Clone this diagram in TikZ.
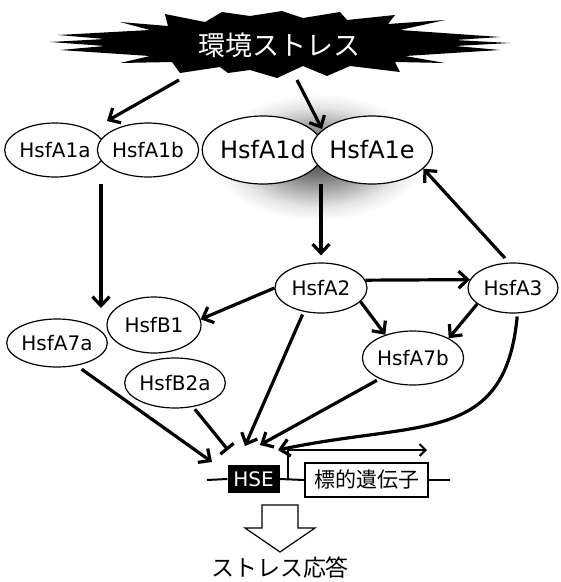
\documentclass[tikz,border=0pt]{standalone}
\usepackage{fontspec}
\setmainfont{DejaVu Sans}
\newfontfamily\jpfont{Noto Sans CJK JP}
\usetikzlibrary{shapes.geometric,arrows.meta}
% soft halo behind the HsfA1d/HsfA1e pair (path edge sits at 25bp)
\pgfdeclareradialshading{glow}{\pgfpoint{0bp}{0bp}}{color(0bp)=(black!68); color(6bp)=(black!58); color(13bp)=(black!32); color(19bp)=(black!10); color(24bp)=(white); color(50bp)=(white)}
\begin{document}
\begin{tikzpicture}[x=1pt,y=-1pt,
  hsf/.style={ellipse,draw,line width=1.2pt,fill=white,inner sep=0pt,
    font=\fontsize{20}{24}\selectfont},
  hsfbig/.style={hsf,font=\fontsize{24}{28}\selectfont},
  link/.style={line width=3.2pt,-{Straight Barb[length=9pt,width=17pt]}},
  block/.style={line width=3.2pt,-{Bar[width=17pt]}},
  dna/.style={line width=2pt},
]
\useasboundingbox (0,0) rectangle (561,582);
\fill[white] (0,0) rectangle (561,582);

% halo
\shade[shading=glow] (318,157) ellipse [x radius=112, y radius=66];

% stress burst
\fill[black] (58,35) -- (150,30) -- (120,22) -- (168,26) -- (165,14) -- (205,22)
  -- (222,12) -- (250,16) -- (282,11) -- (303,18) -- (340,12) -- (347,20)
  -- (395,15) -- (388,24) -- (445,20) -- (400,30) -- (500,37) -- (455,40)
  -- (510,43) -- (455,46) -- (500,50) -- (405,56) -- (445,63) -- (395,62)
  -- (400,72) -- (350,66) -- (327,76) -- (303,66) -- (277,78) -- (250,70)
  -- (228,73) -- (220,67) -- (180,73) -- (172,62) -- (120,63) -- (150,56)
  -- (60,50) -- (105,46) -- (50,42) -- (105,39) -- cycle;
\node[text=white,font=\jpfont\fontsize{27}{30}\selectfont,inner sep=0pt] (stress) at (279,45) {環境ストレス};

% transcription factors
\node[hsf,minimum width=92,minimum height=54] (a1a) at (55,150) {HsfA1a};
\node[hsf,minimum width=92,minimum height=54] (a1b) at (148,150) {HsfA1b};
\node[hsfbig,minimum width=108,minimum height=68] (a1d) at (263,150) {HsfA1d};
\node[hsfbig,minimum width=110,minimum height=68] (a1e) at (372,150) {HsfA1e};
\node[hsf,minimum width=92,minimum height=50] (a2) at (321,288) {HsfA2};
\node[hsf,minimum width=90,minimum height=50] (a3) at (513,288) {HsfA3};
\node[hsf,minimum width=94,minimum height=56] (b1) at (154,325) {HsfB1};
\node[hsf,minimum width=92,minimum height=48] (a7a) at (57,343) {HsfA7a};
\node[hsf,minimum width=94,minimum height=50] (b2a) at (175,383) {HsfB2a};
\node[hsf,minimum width=92,minimum height=54] (a7b) at (413,358) {HsfA7b};

% promoter and target gene
\coordinate (dnaL) at (207,480);
\coordinate (dnaR) at (450,480);
\node[fill=black,text=white,minimum width=52,minimum height=28,inner sep=0pt,
  font=\fontsize{20}{24}\selectfont] (hse) at (253.5,479) {HSE};
\node[draw,line width=1.2pt,fill=white,minimum width=123,minimum height=34,inner sep=0pt,
  font=\jpfont\fontsize{21}{24}\selectfont] (gene) at (366.5,480) {標的遺伝子};
\draw[dna] (dnaL) -- (hse.west);
\draw[dna] (hse.east) -- (gene.west);
\draw[dna] (gene.east) -- (dnaR);
\coordinate (tss) at (288,480);
\coordinate (txEnd) at (427,450);
\draw[line width=2pt,-{Straight Barb[length=6pt,width=12pt]}] (tss) |- (txEnd);

% arrow end points
\coordinate (burstL) at (179,80);
\coordinate (burstR) at (297,80);
\coordinate (abTop) at (107,121);
\coordinate (deTop) at (322,129);
\coordinate (abBot) at (101,184);
\coordinate (abTip) at (101,308);
\coordinate (deBot) at (321,184);
\coordinate (tA7a) at (212,462);
\coordinate (tB2a) at (228,450);
\coordinate (tA2) at (245,446);
\coordinate (tA7b) at (260,445);
\coordinate (tA3) at (278,450);

% regulatory links
\draw[link] (burstL) -- (abTop);
\draw[link] (burstR) -- (deTop);
\draw[link] (abBot) -- (abTip);
\draw[link,shorten >=7pt] (deBot) -- (a2.north);
\draw[link] (a2.10) -- (a3.169);
\draw[link] (a2.180) -- (b1.7);
\draw[link] (a2.341) -- (a7b.140);
\draw[link] (a3.204) -- (a7b.29);
\draw[link,shorten <=6pt] (a3.99) -- (a1e.340);
\draw[link,shorten <=3pt] (a2.234) -- (tA2);
\draw[link,shorten <=3pt] (a7b.212) -- (tA7b);
\draw[link,shorten <=6pt] (a7a.311) -- (tA7a);
\draw[block,shorten <=3pt] (b2a.307) -- (tB2a);
\draw[link,shorten <=3pt] (a3.280) .. controls (505,445) and (420,420) .. (tA3);

% stress response
\draw[line width=1.2pt,fill=white] (262,505) -- (298,505) -- (298,528) -- (315,528)
  -- (280,552) -- (245,528) -- (262,528) -- cycle;
\node[font=\jpfont\fontsize{23}{26}\selectfont,inner sep=0pt] (resp) at (280,568) {ストレス応答};
\end{tikzpicture}
\end{document}
